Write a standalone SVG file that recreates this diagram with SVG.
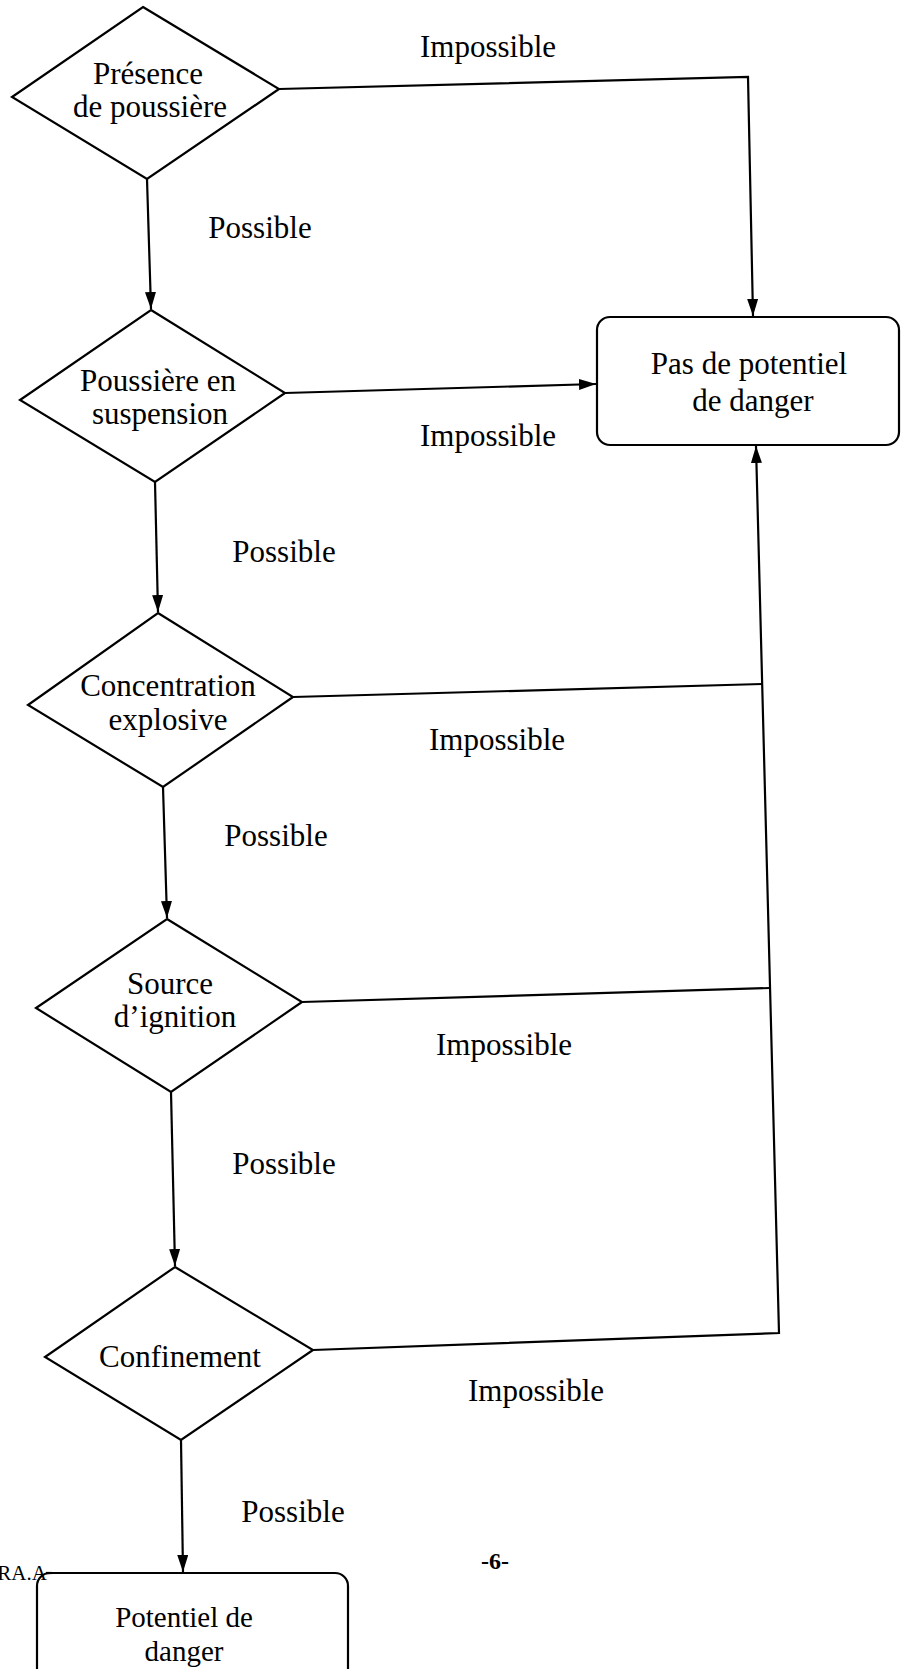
<svg xmlns="http://www.w3.org/2000/svg" width="901" height="1669" viewBox="0 0 901 1669">
<style>
.shape{fill:#fff;stroke:#000;stroke-width:2.2;stroke-linejoin:miter}
.conn{fill:none;stroke:#000;stroke-width:2.2}
text{font-family:"Liberation Serif","Times New Roman",serif;font-size:31px;fill:#000;text-anchor:middle}
.foot{font-size:24px;font-weight:bold}
.small{font-size:29px}
</style>
<defs>
<marker id="ah" markerUnits="userSpaceOnUse" markerWidth="18" markerHeight="12" refX="17" refY="5.5" orient="auto">
<path d="M0,0 L17,5.5 L0,11 z" fill="#000"/>
</marker>
</defs>
<rect width="901" height="1669" fill="#fff"/>

<g id="connectors">
<polyline class="conn" points="279,89 748,77 753,316" marker-end="url(#ah)"/>
<line class="conn" x1="147" y1="179" x2="151" y2="309" marker-end="url(#ah)"/>
<line class="conn" x1="285" y1="393" x2="596" y2="384" marker-end="url(#ah)"/>
<line class="conn" x1="155" y1="482" x2="158" y2="612" marker-end="url(#ah)"/>
<line class="conn" x1="163" y1="787" x2="167" y2="918" marker-end="url(#ah)"/>
<line class="conn" x1="171" y1="1092" x2="175" y2="1266" marker-end="url(#ah)"/>
<line class="conn" x1="181" y1="1440" x2="183" y2="1572" marker-end="url(#ah)"/>
<polyline class="conn" points="313,1350 779,1333 756,446" marker-end="url(#ah)"/>
<line class="conn" x1="293" y1="697" x2="762" y2="684"/>
<line class="conn" x1="302" y1="1002" x2="770" y2="988"/>
<text x="488" y="57">Impossible</text>
<text x="260" y="238">Possible</text>
<text x="488" y="446">Impossible</text>
<text x="284" y="562">Possible</text>
<text x="497" y="750">Impossible</text>
<text x="276" y="846">Possible</text>
<text x="504" y="1055">Impossible</text>
<text x="284" y="1174">Possible</text>
<text x="536" y="1401">Impossible</text>
<text x="293" y="1522">Possible</text>
</g>

<g id="n1">
<polygon class="shape" points="143,7 279,89 147,179 12,97"/>
<text x="148" y="84">Présence</text>
<text x="150" y="117">de poussière</text>
</g>

<g id="n2">
<polygon class="shape" points="151,310 285,393 155,482 20,400"/>
<text x="158" y="391">Poussière en</text>
<text x="160" y="424">suspension</text>
</g>

<g id="n3">
<polygon class="shape" points="158,613 293,697 163,787 28,705"/>
<text x="168" y="696">Concentration</text>
<text x="168" y="730">explosive</text>
</g>

<g id="n4">
<polygon class="shape" points="167,919 302,1002 171,1092 36,1008"/>
<text x="170" y="994">Source</text>
<text x="175" y="1027">d’ignition</text>
</g>

<g id="n5">
<polygon class="shape" points="175,1267 313,1350 181,1440 45,1357"/>
<text x="180" y="1367">Confinement</text>
</g>

<g id="box-safe">
<rect class="shape" x="597" y="317" width="302" height="128" rx="13"/>
<text x="749" y="374">Pas de potentiel</text>
<text x="753" y="411">de danger</text>
</g>

<g id="box-danger">
<rect class="shape" x="37" y="1573" width="311" height="130" rx="13"/>
<text class="small" x="184" y="1627">Potentiel de</text>
<text class="small" x="184" y="1661">danger</text>
</g>

<g id="footer">
<line class="conn" x1="46" y1="1573" x2="52" y2="1573"/>
<text x="22" y="1580" style="font-size:21px">RA.A</text>
<text class="foot" x="495" y="1569">-6-</text>
</g>
</svg>
